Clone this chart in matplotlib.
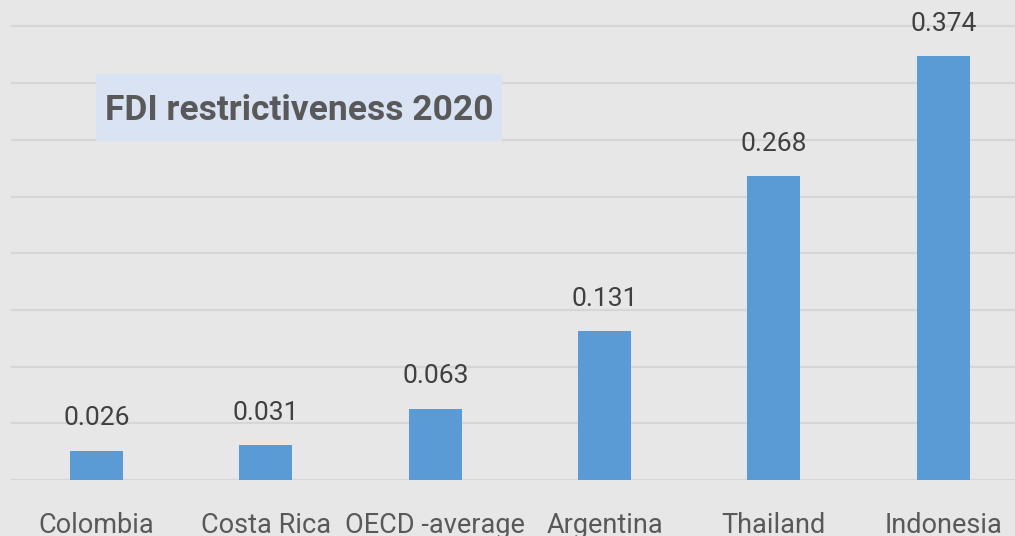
import matplotlib
matplotlib.use("Agg")
import matplotlib.pyplot as plt
from matplotlib.patches import Rectangle

# values
countries = ["Colombia", "Costa Rica", "OECD -average", "Argentina", "Thailand", "Indonesia"]
scores = [0.026, 0.031, 0.063, 0.131, 0.268, 0.374]
value_labels = ["0.026", "0.031", "0.063", "0.131", "0.268", "0.374"]
grid_ticks = [0.0, 0.05, 0.10, 0.15, 0.20, 0.25, 0.30, 0.35, 0.40]
title = "FDI restrictiveness 2020"

bg = "#e7e7e7"
bar_color = "#5b9bd5"
grid_color = "#d6d6d6"

plt.rcParams["font.family"] = ["Roboto", "DejaVu Sans"]

W, H = 1015, 536
fig = plt.figure(figsize=(W / 100, H / 100), dpi=100, facecolor=bg)
ax = fig.add_axes([0, 56 / H, 1, 480 / H])
ax.set_facecolor(bg)

x = list(range(len(countries)))
ax.bar(x, scores, width=0.313, color=bar_color, zorder=3)

ax.set_xlim(-0.571, 5.424)
ax.set_ylim(0, 0.4233)
ax.set_yticks(grid_ticks)
ax.yaxis.set_visible(False)
for t in grid_ticks:
    ax.axhline(t, xmin=12 / W, xmax=1, color=grid_color, lw=1.6, zorder=1)

for s in ax.spines.values():
    s.set_visible(False)

ax.set_xticks(x)
ax.set_xticklabels(countries, fontsize=19.5, color="#595959")
ax.tick_params(axis="x", length=0, pad=23)

for xi, v, lab in zip(x, scores, value_labels):
    ax.annotate(lab, (xi, v), xytext=(0, 14.5), textcoords="offset points",
                ha="center", va="bottom", fontsize=19, color="#404040")

# title box
fig.patches.append(Rectangle((96 / W, 1 - 141 / H), 406 / W, 67 / H,
                             transform=fig.transFigure, facecolor="#dae3f3",
                             edgecolor="none", zorder=5))
fig.text(299 / W, 1 - 120 / H, title, ha="center", va="baseline",
         fontsize=25.5, fontweight="bold", color="#595959", zorder=6)

fig.savefig("out.png", dpi=100, facecolor=bg)
